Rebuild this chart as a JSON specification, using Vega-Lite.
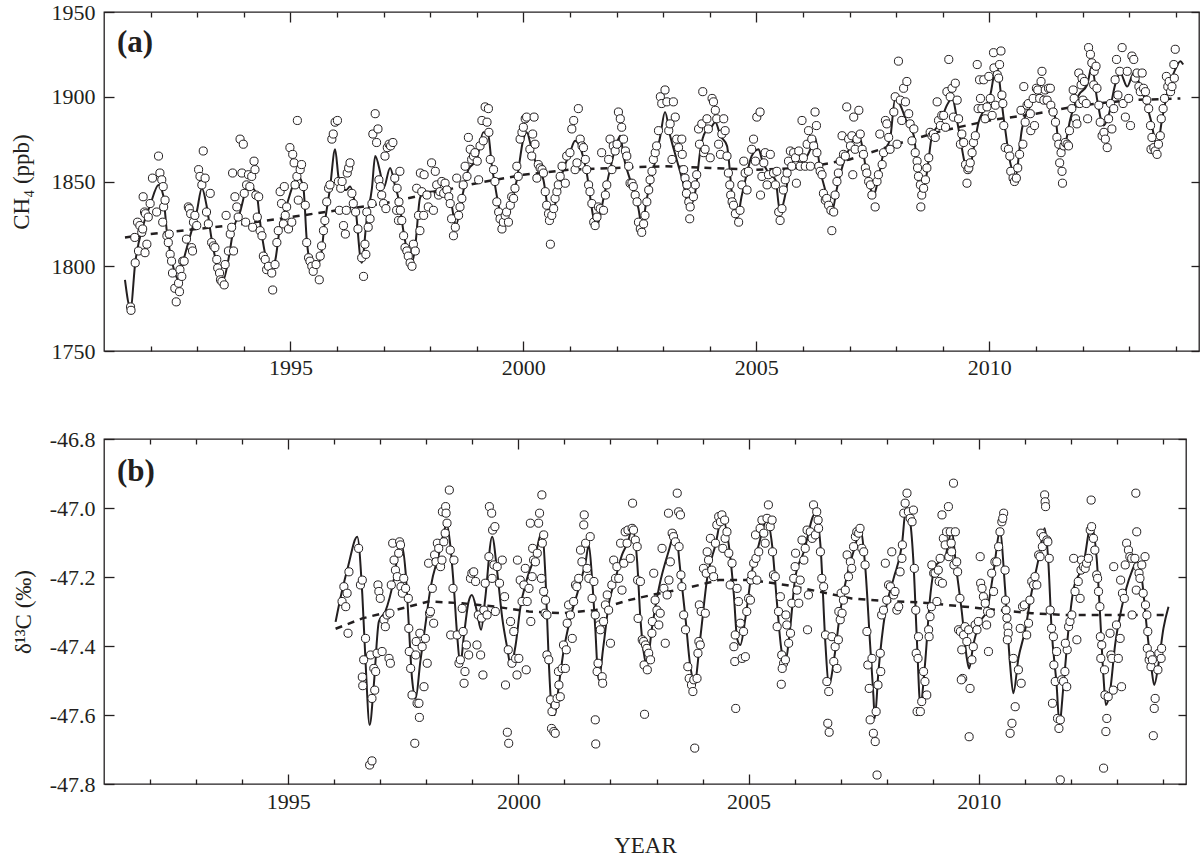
{
  "$schema": "https://vega.github.io/schema/vega-lite/v6.json",
  "background": "white",
  "padding": {"left": 9, "top": 0, "right": 0, "bottom": 0},
  "spacing": 43,
  "config": {
    "view": {"stroke": "#231f20", "strokeWidth": 1.3},
    "font": "Liberation Serif",
    "axis": {
      "domain": false,
      "grid": false,
      "tickColor": "#231f20",
      "tickWidth": 1.3,
      "labelFont": "Liberation Serif",
      "labelFontSize": 22,
      "labelColor": "#231f20",
      "labelOverlap": false,
      "labelFlush": false,
      "titleFont": "Liberation Serif",
      "titleFontSize": 23,
      "titleFontWeight": "normal",
      "titleColor": "#231f20"
    }
  },
  "datasets": {
    "trend_a": [
      {"yr":1991.45,"v":1817},{"yr":1992,"v":1819},{"yr":1993,"v":1822},{"yr":1994,"v":1825},{"yr":1995,"v":1829},{"yr":1996,"v":1833},{"yr":1997,"v":1837},{"yr":1998,"v":1843},{"yr":1999,"v":1849},{"yr":2000,"v":1854},{"yr":2001,"v":1857},{"yr":2002,"v":1858},{"yr":2003,"v":1859},{"yr":2004,"v":1858},{"yr":2005,"v":1857},{"yr":2006,"v":1858},{"yr":2007,"v":1863},{"yr":2008,"v":1872},{"yr":2009,"v":1880},{"yr":2010,"v":1886},{"yr":2011,"v":1890},{"yr":2012,"v":1895},{"yr":2013,"v":1898},{"yr":2014.1,"v":1899}
    ],
    "fit_a": [
      {"yr":1991.45,"v":1792},{"yr":1991.57,"v":1775},{"yr":1991.67,"v":1802},{"yr":1991.84,"v":1824},{"yr":1991.99,"v":1836},{"yr":1992.17,"v":1848},{"yr":1992.27,"v":1842},{"yr":1992.35,"v":1820},{"yr":1992.45,"v":1804},{"yr":1992.6,"v":1792},{"yr":1992.7,"v":1803},{"yr":1992.85,"v":1818},{"yr":1992.99,"v":1832},{"yr":1993.1,"v":1846},{"yr":1993.2,"v":1836},{"yr":1993.31,"v":1816},{"yr":1993.45,"v":1798},{"yr":1993.56,"v":1792},{"yr":1993.67,"v":1804},{"yr":1993.78,"v":1822},{"yr":1993.92,"v":1832},{"yr":1994.06,"v":1845},{"yr":1994.18,"v":1846},{"yr":1994.28,"v":1842},{"yr":1994.35,"v":1826},{"yr":1994.49,"v":1804},{"yr":1994.6,"v":1800},{"yr":1994.67,"v":1803},{"yr":1994.78,"v":1824},{"yr":1994.92,"v":1836},{"yr":1995.06,"v":1848},{"yr":1995.17,"v":1853},{"yr":1995.28,"v":1846},{"yr":1995.35,"v":1816},{"yr":1995.42,"v":1803},{"yr":1995.53,"v":1800},{"yr":1995.64,"v":1804},{"yr":1995.74,"v":1826},{"yr":1995.85,"v":1846},{"yr":1995.96,"v":1869},{"yr":1996.03,"v":1853},{"yr":1996.1,"v":1845},{"yr":1996.2,"v":1845},{"yr":1996.28,"v":1847},{"yr":1996.39,"v":1836},{"yr":1996.53,"v":1802},{"yr":1996.64,"v":1828},{"yr":1996.75,"v":1846},{"yr":1996.82,"v":1865},{"yr":1996.93,"v":1855},{"yr":1997.0,"v":1846},{"yr":1997.14,"v":1858},{"yr":1997.25,"v":1847},{"yr":1997.32,"v":1840},{"yr":1997.43,"v":1820},{"yr":1997.53,"v":1806},{"yr":1997.61,"v":1802},{"yr":1997.68,"v":1812},{"yr":1997.78,"v":1840},{"yr":1997.86,"v":1844},{"yr":1998.0,"v":1844},{"yr":1998.21,"v":1845},{"yr":1998.39,"v":1846},{"yr":1998.5,"v":1830},{"yr":1998.55,"v":1824},{"yr":1998.68,"v":1840},{"yr":1998.82,"v":1857},{"yr":1999.0,"v":1863},{"yr":1999.14,"v":1879},{"yr":1999.25,"v":1877},{"yr":1999.32,"v":1860},{"yr":1999.39,"v":1848},{"yr":1999.5,"v":1832},{"yr":1999.61,"v":1826},{"yr":1999.72,"v":1836},{"yr":1999.86,"v":1851},{"yr":2000.0,"v":1875},{"yr":2000.07,"v":1879},{"yr":2000.18,"v":1869},{"yr":2000.29,"v":1859},{"yr":2000.43,"v":1851},{"yr":2000.54,"v":1832},{"yr":2000.61,"v":1828},{"yr":2000.72,"v":1842},{"yr":2000.86,"v":1857},{"yr":2001.0,"v":1867},{"yr":2001.11,"v":1874},{"yr":2001.22,"v":1870},{"yr":2001.36,"v":1855},{"yr":2001.51,"v":1828},{"yr":2001.58,"v":1824},{"yr":2001.72,"v":1840},{"yr":2001.86,"v":1857},{"yr":2002.01,"v":1873},{"yr":2002.08,"v":1877},{"yr":2002.15,"v":1865},{"yr":2002.29,"v":1851},{"yr":2002.47,"v":1834},{"yr":2002.54,"v":1824},{"yr":2002.65,"v":1840},{"yr":2002.79,"v":1857},{"yr":2002.94,"v":1877},{"yr":2003.04,"v":1891},{"yr":2003.15,"v":1877},{"yr":2003.29,"v":1863},{"yr":2003.44,"v":1848},{"yr":2003.55,"v":1835},{"yr":2003.69,"v":1844},{"yr":2003.8,"v":1869},{"yr":2003.9,"v":1879},{"yr":2004.01,"v":1881},{"yr":2004.12,"v":1885},{"yr":2004.23,"v":1877},{"yr":2004.37,"v":1871},{"yr":2004.48,"v":1842},{"yr":2004.58,"v":1828},{"yr":2004.69,"v":1842},{"yr":2004.8,"v":1855},{"yr":2004.9,"v":1865},{"yr":2005.05,"v":1869},{"yr":2005.12,"v":1863},{"yr":2005.26,"v":1855},{"yr":2005.41,"v":1851},{"yr":2005.51,"v":1832},{"yr":2005.62,"v":1842},{"yr":2005.73,"v":1859},{"yr":2005.84,"v":1863},{"yr":2005.94,"v":1861},{"yr":2006.09,"v":1865},{"yr":2006.19,"v":1871},{"yr":2006.26,"v":1876},{"yr":2006.37,"v":1857},{"yr":2006.51,"v":1842},{"yr":2006.62,"v":1832},{"yr":2006.73,"v":1846},{"yr":2006.87,"v":1861},{"yr":2007.02,"v":1871},{"yr":2007.12,"v":1877},{"yr":2007.23,"v":1875},{"yr":2007.37,"v":1855},{"yr":2007.52,"v":1842},{"yr":2007.59,"v":1848},{"yr":2007.73,"v":1867},{"yr":2007.87,"v":1875},{"yr":2007.98,"v":1899},{"yr":2008.09,"v":1895},{"yr":2008.23,"v":1885},{"yr":2008.38,"v":1877},{"yr":2008.48,"v":1851},{"yr":2008.55,"v":1842},{"yr":2008.66,"v":1855},{"yr":2008.77,"v":1877},{"yr":2008.95,"v":1885},{"yr":2009.09,"v":1895},{"yr":2009.2,"v":1899},{"yr":2009.34,"v":1881},{"yr":2009.49,"v":1859},{"yr":2009.56,"v":1855},{"yr":2009.66,"v":1869},{"yr":2009.77,"v":1885},{"yr":2009.9,"v":1893},{"yr":2010.02,"v":1901},{"yr":2010.15,"v":1918},{"yr":2010.31,"v":1887},{"yr":2010.45,"v":1861},{"yr":2010.56,"v":1853},{"yr":2010.7,"v":1881},{"yr":2010.88,"v":1895},{"yr":2011.06,"v":1901},{"yr":2011.2,"v":1899},{"yr":2011.42,"v":1887},{"yr":2011.52,"v":1867},{"yr":2011.6,"v":1869},{"yr":2011.74,"v":1887},{"yr":2011.92,"v":1901},{"yr":2012.1,"v":1907},{"yr":2012.2,"v":1918},{"yr":2012.31,"v":1899},{"yr":2012.45,"v":1883},{"yr":2012.56,"v":1889},{"yr":2012.7,"v":1907},{"yr":2012.81,"v":1914},{"yr":2012.96,"v":1906},{"yr":2013.1,"v":1914},{"yr":2013.28,"v":1903},{"yr":2013.46,"v":1887},{"yr":2013.6,"v":1871},{"yr":2013.71,"v":1887},{"yr":2013.85,"v":1906},{"yr":2013.99,"v":1916},{"yr":2014.1,"v":1921},{"yr":2014.16,"v":1919}
    ],
    "pts_a": [
      {"yr":1991.57,"v":1776},{"yr":1991.58,"v":1774},{"yr":1991.67,"v":1802},{"yr":1991.66,"v":1817},{"yr":1991.74,"v":1809},{"yr":1991.72,"v":1826},{"yr":1991.77,"v":1824},{"yr":1991.81,"v":1820},{"yr":1991.83,"v":1822},{"yr":1991.84,"v":1841},{"yr":1991.87,"v":1832},{"yr":1991.89,"v":1831},{"yr":1991.92,"v":1813},{"yr":1991.88,"v":1808},{"yr":1991.95,"v":1829},{"yr":1991.99,"v":1837},{"yr":1992.04,"v":1852},{"yr":1992.17,"v":1865},{"yr":1992.13,"v":1832},{"yr":1992.2,"v":1855},{"yr":1992.24,"v":1851},{"yr":1992.27,"v":1847},{"yr":1992.28,"v":1835},{"yr":1992.31,"v":1839},{"yr":1992.26,"v":1826},{"yr":1992.35,"v":1818},{"yr":1992.38,"v":1814},{"yr":1992.4,"v":1819},{"yr":1992.42,"v":1807},{"yr":1992.45,"v":1803},{"yr":1992.47,"v":1796},{"yr":1992.52,"v":1787},{"yr":1992.55,"v":1779},{"yr":1992.6,"v":1790},{"yr":1992.62,"v":1785},{"yr":1992.63,"v":1798},{"yr":1992.67,"v":1794},{"yr":1992.69,"v":1803},{"yr":1992.72,"v":1803},{"yr":1992.77,"v":1816},{"yr":1992.81,"v":1835},{"yr":1992.83,"v":1834},{"yr":1992.86,"v":1831},{"yr":1992.88,"v":1811},{"yr":1992.9,"v":1809},{"yr":1992.92,"v":1826},{"yr":1992.95,"v":1830},{"yr":1992.99,"v":1824},{"yr":1993.03,"v":1857},{"yr":1993.06,"v":1853},{"yr":1993.1,"v":1848},{"yr":1993.13,"v":1868},{"yr":1993.17,"v":1852},{"yr":1993.2,"v":1832},{"yr":1993.24,"v":1825},{"yr":1993.28,"v":1843},{"yr":1993.31,"v":1814},{"yr":1993.35,"v":1812},{"yr":1993.38,"v":1811},{"yr":1993.42,"v":1804},{"yr":1993.44,"v":1799},{"yr":1993.48,"v":1796},{"yr":1993.5,"v":1792},{"yr":1993.53,"v":1791},{"yr":1993.58,"v":1789},{"yr":1993.6,"v":1801},{"yr":1993.62,"v":1830},{"yr":1993.67,"v":1809},{"yr":1993.71,"v":1819},{"yr":1993.74,"v":1823},{"yr":1993.76,"v":1855},{"yr":1993.78,"v":1809},{"yr":1993.81,"v":1841},{"yr":1993.85,"v":1835},{"yr":1993.88,"v":1829},{"yr":1993.92,"v":1875},{"yr":1993.96,"v":1855},{"yr":1993.99,"v":1872},{"yr":1994.01,"v":1843},{"yr":1994.04,"v":1826},{"yr":1994.06,"v":1848},{"yr":1994.1,"v":1854},{"yr":1994.13,"v":1847},{"yr":1994.17,"v":1853},{"yr":1994.19,"v":1823},{"yr":1994.22,"v":1862},{"yr":1994.24,"v":1857},{"yr":1994.26,"v":1842},{"yr":1994.29,"v":1829},{"yr":1994.32,"v":1841},{"yr":1994.35,"v":1821},{"yr":1994.39,"v":1818},{"yr":1994.42,"v":1806},{"yr":1994.46,"v":1804},{"yr":1994.49,"v":1798},{"yr":1994.53,"v":1800},{"yr":1994.6,"v":1796},{"yr":1994.62,"v":1786},{"yr":1994.67,"v":1801},{"yr":1994.71,"v":1814},{"yr":1994.74,"v":1821},{"yr":1994.78,"v":1844},{"yr":1994.81,"v":1837},{"yr":1994.85,"v":1825},{"yr":1994.87,"v":1847},{"yr":1994.89,"v":1830},{"yr":1994.92,"v":1835},{"yr":1994.96,"v":1822},{"yr":1994.99,"v":1870},{"yr":1995.03,"v":1826},{"yr":1995.05,"v":1866},{"yr":1995.08,"v":1861},{"yr":1995.1,"v":1848},{"yr":1995.14,"v":1853},{"yr":1995.15,"v":1886},{"yr":1995.17,"v":1839},{"yr":1995.21,"v":1857},{"yr":1995.24,"v":1860},{"yr":1995.28,"v":1847},{"yr":1995.32,"v":1836},{"yr":1995.35,"v":1814},{"yr":1995.39,"v":1805},{"yr":1995.42,"v":1803},{"yr":1995.46,"v":1800},{"yr":1995.49,"v":1797},{"yr":1995.55,"v":1801},{"yr":1995.62,"v":1792},{"yr":1995.64,"v":1806},{"yr":1995.67,"v":1812},{"yr":1995.71,"v":1821},{"yr":1995.74,"v":1827},{"yr":1995.78,"v":1838},{"yr":1995.82,"v":1846},{"yr":1995.85,"v":1848},{"yr":1995.89,"v":1875},{"yr":1995.92,"v":1878},{"yr":1995.96,"v":1885},{"yr":1996.01,"v":1886},{"yr":1996.03,"v":1850},{"yr":1996.05,"v":1833},{"yr":1996.08,"v":1846},{"yr":1996.11,"v":1850},{"yr":1996.14,"v":1824},{"yr":1996.18,"v":1819},{"yr":1996.2,"v":1833},{"yr":1996.22,"v":1855},{"yr":1996.25,"v":1858},{"yr":1996.28,"v":1861},{"yr":1996.32,"v":1843},{"yr":1996.35,"v":1837},{"yr":1996.4,"v":1832},{"yr":1996.45,"v":1822},{"yr":1996.53,"v":1805},{"yr":1996.57,"v":1794},{"yr":1996.6,"v":1813},{"yr":1996.62,"v":1807},{"yr":1996.64,"v":1832},{"yr":1996.67,"v":1823},{"yr":1996.71,"v":1828},{"yr":1996.75,"v":1837},{"yr":1996.77,"v":1878},{"yr":1996.82,"v":1890},{"yr":1996.85,"v":1873},{"yr":1996.88,"v":1881},{"yr":1996.9,"v":1851},{"yr":1996.93,"v":1847},{"yr":1996.96,"v":1842},{"yr":1997.0,"v":1837},{"yr":1997.03,"v":1865},{"yr":1997.05,"v":1834},{"yr":1997.08,"v":1870},{"yr":1997.12,"v":1872},{"yr":1997.15,"v":1871},{"yr":1997.2,"v":1873},{"yr":1997.24,"v":1852},{"yr":1997.28,"v":1833},{"yr":1997.32,"v":1827},
      {"yr":1997.29,"v":1846},{"yr":1997.35,"v":1856},{"yr":1997.33,"v":1838},{"yr":1997.36,"v":1833},{"yr":1997.39,"v":1827},{"yr":1997.43,"v":1818},{"yr":1997.46,"v":1811},{"yr":1997.5,"v":1809},{"yr":1997.53,"v":1806},{"yr":1997.57,"v":1802},{"yr":1997.61,"v":1800},{"yr":1997.64,"v":1813},{"yr":1997.68,"v":1809},{"yr":1997.71,"v":1846},{"yr":1997.75,"v":1830},{"yr":1997.78,"v":1821},{"yr":1997.82,"v":1844},{"yr":1997.86,"v":1830},{"yr":1997.79,"v":1855},{"yr":1997.87,"v":1854},{"yr":1997.93,"v":1842},{"yr":1997.96,"v":1835},{"yr":1998.03,"v":1861},{"yr":1998.07,"v":1833},{"yr":1998.11,"v":1856},{"yr":1998.14,"v":1848},{"yr":1998.18,"v":1842},{"yr":1998.21,"v":1844},{"yr":1998.25,"v":1850},{"yr":1998.29,"v":1843},{"yr":1998.32,"v":1849},{"yr":1998.36,"v":1845},{"yr":1998.4,"v":1841},{"yr":1998.43,"v":1837},{"yr":1998.46,"v":1828},{"yr":1998.5,"v":1818},{"yr":1998.54,"v":1823},{"yr":1998.57,"v":1852},{"yr":1998.61,"v":1830},{"yr":1998.64,"v":1835},{"yr":1998.68,"v":1840},{"yr":1998.71,"v":1848},{"yr":1998.75,"v":1859},{"yr":1998.79,"v":1853},{"yr":1998.82,"v":1876},{"yr":1998.86,"v":1869},{"yr":1998.89,"v":1863},{"yr":1998.93,"v":1865},{"yr":1998.96,"v":1867},{"yr":1999.01,"v":1862},{"yr":1999.04,"v":1851},{"yr":1999.07,"v":1871},{"yr":1999.11,"v":1886},{"yr":1999.14,"v":1874},{"yr":1999.18,"v":1894},{"yr":1999.22,"v":1885},{"yr":1999.25,"v":1893},{"yr":1999.26,"v":1879},{"yr":1999.29,"v":1863},{"yr":1999.36,"v":1857},{"yr":1999.39,"v":1850},{"yr":1999.43,"v":1838},{"yr":1999.47,"v":1832},{"yr":1999.5,"v":1828},{"yr":1999.54,"v":1822},{"yr":1999.57,"v":1826},{"yr":1999.61,"v":1830},{"yr":1999.64,"v":1832},{"yr":1999.68,"v":1826},{"yr":1999.72,"v":1836},{"yr":1999.75,"v":1841},{"yr":1999.79,"v":1840},{"yr":1999.82,"v":1846},{"yr":1999.86,"v":1859},{"yr":1999.89,"v":1853},{"yr":1999.93,"v":1875},{"yr":1999.97,"v":1879},{"yr":2000.0,"v":1882},{"yr":2000.04,"v":1887},{"yr":2000.07,"v":1888},{"yr":2000.14,"v":1869},{"yr":2000.18,"v":1865},{"yr":2000.2,"v":1878},{"yr":2000.23,"v":1888},{"yr":2000.25,"v":1872},{"yr":2000.29,"v":1852},{"yr":2000.32,"v":1860},{"yr":2000.36,"v":1858},{"yr":2000.4,"v":1857},{"yr":2000.43,"v":1855},{"yr":2000.47,"v":1844},{"yr":2000.5,"v":1836},{"yr":2000.54,"v":1831},{"yr":2000.56,"v":1827},{"yr":2000.58,"v":1813},{"yr":2000.61,"v":1830},{"yr":2000.65,"v":1834},{"yr":2000.68,"v":1840},{"yr":2000.72,"v":1844},{"yr":2000.75,"v":1848},{"yr":2000.79,"v":1853},{"yr":2000.83,"v":1859},{"yr":2000.9,"v":1849},{"yr":2000.93,"v":1865},{"yr":2001.0,"v":1867},{"yr":2001.04,"v":1881},{"yr":2001.08,"v":1886},{"yr":2001.11,"v":1857},{"yr":2001.15,"v":1861},{"yr":2001.18,"v":1893},{"yr":2001.22,"v":1875},{"yr":2001.26,"v":1871},{"yr":2001.29,"v":1870},{"yr":2001.33,"v":1863},{"yr":2001.36,"v":1857},{"yr":2001.4,"v":1848},{"yr":2001.43,"v":1844},{"yr":2001.47,"v":1837},{"yr":2001.51,"v":1826},{"yr":2001.54,"v":1824},{"yr":2001.58,"v":1829},{"yr":2001.61,"v":1835},{"yr":2001.65,"v":1834},{"yr":2001.68,"v":1867},{"yr":2001.72,"v":1833},{"yr":2001.76,"v":1842},{"yr":2001.79,"v":1848},{"yr":2001.83,"v":1863},{"yr":2001.86,"v":1875},{"yr":2001.9,"v":1857},{"yr":2001.93,"v":1871},{"yr":2001.97,"v":1868},{"yr":2002.01,"v":1872},{"yr":2002.04,"v":1891},{"yr":2002.08,"v":1887},{"yr":2002.11,"v":1882},{"yr":2002.15,"v":1875},{"yr":2002.19,"v":1868},{"yr":2002.22,"v":1865},{"yr":2002.26,"v":1859},{"yr":2002.29,"v":1849},{"yr":2002.33,"v":1849},{"yr":2002.36,"v":1847},{"yr":2002.4,"v":1842},{"yr":2002.44,"v":1838},{"yr":2002.47,"v":1826},{"yr":2002.51,"v":1822},{"yr":2002.54,"v":1820},{"yr":2002.58,"v":1825},{"yr":2002.61,"v":1830},{"yr":2002.65,"v":1838},{"yr":2002.69,"v":1845},{"yr":2002.72,"v":1851},{"yr":2002.76,"v":1856},{"yr":2002.79,"v":1863},{"yr":2002.83,"v":1867},{"yr":2002.86,"v":1871},{"yr":2002.9,"v":1880},{"yr":2002.94,"v":1900},{"yr":2002.97,"v":1896},{"yr":2003.04,"v":1904},{"yr":2003.08,"v":1897},{"yr":2003.12,"v":1880},{"yr":2003.15,"v":1884},{"yr":2003.19,"v":1863},{"yr":2003.22,"v":1897},{"yr":2003.26,"v":1888},{"yr":2003.29,"v":1875},{"yr":2003.33,"v":1870},
      {"yr":2003.4,"v":1875},{"yr":2003.41,"v":1866},{"yr":2003.44,"v":1857},{"yr":2003.47,"v":1852},{"yr":2003.51,"v":1848},{"yr":2003.5,"v":1843},{"yr":2003.55,"v":1838},{"yr":2003.58,"v":1835},{"yr":2003.57,"v":1828},{"yr":2003.65,"v":1841},{"yr":2003.69,"v":1848},{"yr":2003.72,"v":1854},{"yr":2003.76,"v":1881},{"yr":2003.78,"v":1872},{"yr":2003.83,"v":1884},{"yr":2003.85,"v":1903},{"yr":2003.87,"v":1867},{"yr":2003.9,"v":1869},{"yr":2003.94,"v":1887},{"yr":2003.97,"v":1881},{"yr":2004.01,"v":1864},{"yr":2004.05,"v":1899},{"yr":2004.08,"v":1897},{"yr":2004.12,"v":1892},{"yr":2004.15,"v":1887},{"yr":2004.19,"v":1872},{"yr":2004.23,"v":1866},{"yr":2004.26,"v":1878},{"yr":2004.3,"v":1887},{"yr":2004.33,"v":1880},{"yr":2004.37,"v":1865},{"yr":2004.4,"v":1855},{"yr":2004.43,"v":1848},{"yr":2004.45,"v":1842},{"yr":2004.48,"v":1838},{"yr":2004.51,"v":1836},{"yr":2004.55,"v":1831},{"yr":2004.62,"v":1826},{"yr":2004.65,"v":1833},{"yr":2004.69,"v":1848},{"yr":2004.73,"v":1862},{"yr":2004.76,"v":1855},{"yr":2004.8,"v":1845},{"yr":2004.83,"v":1856},{"yr":2004.9,"v":1869},{"yr":2004.94,"v":1875},{"yr":2004.98,"v":1862},{"yr":2005.01,"v":1888},{"yr":2005.08,"v":1891},{"yr":2005.09,"v":1842},{"yr":2005.12,"v":1853},{"yr":2005.16,"v":1861},{"yr":2005.19,"v":1867},{"yr":2005.23,"v":1848},{"yr":2005.26,"v":1854},{"yr":2005.3,"v":1866},{"yr":2005.37,"v":1855},{"yr":2005.41,"v":1848},{"yr":2005.44,"v":1856},{"yr":2005.48,"v":1832},{"yr":2005.51,"v":1827},{"yr":2005.55,"v":1834},{"yr":2005.58,"v":1845},{"yr":2005.62,"v":1851},{"yr":2005.66,"v":1855},{"yr":2005.69,"v":1862},{"yr":2005.73,"v":1868},{"yr":2005.76,"v":1859},{"yr":2005.8,"v":1867},{"yr":2005.84,"v":1864},{"yr":2005.86,"v":1849},{"yr":2005.91,"v":1868},{"yr":2005.94,"v":1859},{"yr":2005.98,"v":1886},{"yr":2006.01,"v":1864},{"yr":2006.05,"v":1859},{"yr":2006.09,"v":1872},{"yr":2006.12,"v":1880},{"yr":2006.16,"v":1859},{"yr":2006.19,"v":1875},{"yr":2006.23,"v":1871},{"yr":2006.26,"v":1891},{"yr":2006.29,"v":1883},{"yr":2006.3,"v":1867},{"yr":2006.34,"v":1859},{"yr":2006.37,"v":1856},{"yr":2006.41,"v":1854},{"yr":2006.44,"v":1843},{"yr":2006.48,"v":1839},{"yr":2006.51,"v":1840},{"yr":2006.55,"v":1836},{"yr":2006.6,"v":1833},{"yr":2006.62,"v":1821},{"yr":2006.66,"v":1832},{"yr":2006.69,"v":1842},{"yr":2006.73,"v":1850},{"yr":2006.76,"v":1855},{"yr":2006.8,"v":1862},{"yr":2006.84,"v":1877},{"yr":2006.87,"v":1866},{"yr":2006.91,"v":1865},{"yr":2006.94,"v":1894},{"yr":2006.98,"v":1875},{"yr":2007.02,"v":1871},{"yr":2007.05,"v":1877},{"yr":2007.07,"v":1854},{"yr":2007.09,"v":1888},{"yr":2007.12,"v":1869},{"yr":2007.16,"v":1875},{"yr":2007.2,"v":1892},{"yr":2007.23,"v":1878},{"yr":2007.27,"v":1869},{"yr":2007.3,"v":1866},{"yr":2007.34,"v":1858},{"yr":2007.37,"v":1855},{"yr":2007.41,"v":1850},{"yr":2007.45,"v":1848},{"yr":2007.48,"v":1842},{"yr":2007.55,"v":1835},{"yr":2007.59,"v":1850},{"yr":2007.62,"v":1854},{"yr":2007.65,"v":1878},{"yr":2007.7,"v":1860},{"yr":2007.73,"v":1867},{"yr":2007.77,"v":1886},{"yr":2007.8,"v":1884},{"yr":2007.84,"v":1876},{"yr":2007.87,"v":1869},{"yr":2007.95,"v":1891},{"yr":2007.98,"v":1900},{"yr":2008.02,"v":1872},{"yr":2008.05,"v":1921},{"yr":2008.09,"v":1898},{"yr":2008.12,"v":1886},{"yr":2008.16,"v":1905},{"yr":2008.2,"v":1897},{"yr":2008.23,"v":1909},{"yr":2008.27,"v":1890},{"yr":2008.3,"v":1884},{"yr":2008.34,"v":1874},{"yr":2008.38,"v":1881},{"yr":2008.41,"v":1867},{"yr":2008.45,"v":1862},{"yr":2008.46,"v":1858},{"yr":2008.48,"v":1853},{"yr":2008.52,"v":1848},{"yr":2008.53,"v":1835},{"yr":2008.55,"v":1842},{"yr":2008.59,"v":1846},{"yr":2008.63,"v":1851},{"yr":2008.66,"v":1858},{"yr":2008.7,"v":1864},{"yr":2008.73,"v":1879},{"yr":2008.77,"v":1877},{"yr":2008.8,"v":1878},{"yr":2008.84,"v":1876},{"yr":2008.88,"v":1897},{"yr":2008.91,"v":1886},{"yr":2008.95,"v":1883},{"yr":2008.98,"v":1889},{"yr":2009.02,"v":1889},{"yr":2009.06,"v":1882},{"yr":2009.09,"v":1903},{"yr":2009.13,"v":1922},{"yr":2009.16,"v":1900},{"yr":2009.2,"v":1905},{"yr":2009.23,"v":1888},{"yr":2009.27,"v":1908},{"yr":2009.31,"v":1898},{"yr":2009.34,"v":1887},{"yr":2009.38,"v":1872},{"yr":2009.41,"v":1878},{"yr":2009.45,"v":1873},{"yr":2009.49,"v":1860},{"yr":2009.52,"v":1849},{"yr":2009.54,"v":1857},{"yr":2009.56,"v":1858},{"yr":2009.59,"v":1861},{"yr":2009.63,"v":1867},{"yr":2009.66,"v":1873},{"yr":2009.7,"v":1877},{"yr":2009.74,"v":1919},{"yr":2009.76,"v":1893},{"yr":2009.79,"v":1910},
      {"yr":2009.81,"v":1899},{"yr":2009.84,"v":1893},{"yr":2009.88,"v":1910},{"yr":2009.91,"v":1887},{"yr":2009.95,"v":1894},{"yr":2009.99,"v":1912},{"yr":2010.02,"v":1899},{"yr":2010.06,"v":1889},{"yr":2010.09,"v":1926},{"yr":2010.1,"v":1917},{"yr":2010.13,"v":1895},{"yr":2010.17,"v":1913},{"yr":2010.2,"v":1911},{"yr":2010.22,"v":1919},{"yr":2010.25,"v":1927},{"yr":2010.27,"v":1901},{"yr":2010.29,"v":1896},{"yr":2010.31,"v":1883},{"yr":2010.34,"v":1870},{"yr":2010.41,"v":1869},{"yr":2010.44,"v":1865},{"yr":2010.46,"v":1856},{"yr":2010.51,"v":1852},{"yr":2010.54,"v":1850},{"yr":2010.58,"v":1852},{"yr":2010.61,"v":1858},{"yr":2010.65,"v":1866},{"yr":2010.68,"v":1892},{"yr":2010.72,"v":1872},{"yr":2010.74,"v":1906},{"yr":2010.77,"v":1885},{"yr":2010.81,"v":1895},{"yr":2010.84,"v":1896},{"yr":2010.88,"v":1890},{"yr":2010.89,"v":1880},{"yr":2010.94,"v":1899},{"yr":2010.97,"v":1883},{"yr":2011.01,"v":1905},{"yr":2011.04,"v":1904},{"yr":2011.08,"v":1899},{"yr":2011.11,"v":1909},{"yr":2011.13,"v":1915},{"yr":2011.17,"v":1898},{"yr":2011.2,"v":1904},{"yr":2011.24,"v":1898},{"yr":2011.27,"v":1905},{"yr":2011.31,"v":1905},{"yr":2011.32,"v":1895},{"yr":2011.37,"v":1891},{"yr":2011.42,"v":1885},{"yr":2011.45,"v":1876},{"yr":2011.49,"v":1872},{"yr":2011.51,"v":1861},{"yr":2011.54,"v":1867},{"yr":2011.56,"v":1856},{"yr":2011.57,"v":1849},{"yr":2011.6,"v":1871},{"yr":2011.63,"v":1873},{"yr":2011.67,"v":1872},{"yr":2011.7,"v":1871},{"yr":2011.72,"v":1880},{"yr":2011.77,"v":1893},{"yr":2011.8,"v":1904},{"yr":2011.82,"v":1899},{"yr":2011.85,"v":1887},{"yr":2011.88,"v":1884},{"yr":2011.92,"v":1914},{"yr":2011.94,"v":1896},{"yr":2011.97,"v":1907},{"yr":2011.99,"v":1911},{"yr":2012.01,"v":1898},{"yr":2012.04,"v":1909},{"yr":2012.08,"v":1896},{"yr":2012.11,"v":1887},{"yr":2012.13,"v":1929},{"yr":2012.17,"v":1925},{"yr":2012.2,"v":1920},{"yr":2012.24,"v":1907},{"yr":2012.25,"v":1915},{"yr":2012.29,"v":1918},{"yr":2012.31,"v":1905},{"yr":2012.35,"v":1895},{"yr":2012.38,"v":1885},{"yr":2012.42,"v":1877},{"yr":2012.46,"v":1879},{"yr":2012.49,"v":1875},{"yr":2012.53,"v":1870},{"yr":2012.56,"v":1887},{"yr":2012.6,"v":1896},{"yr":2012.63,"v":1881},{"yr":2012.67,"v":1893},{"yr":2012.7,"v":1910},{"yr":2012.73,"v":1922},{"yr":2012.76,"v":1901},{"yr":2012.8,"v":1915},{"yr":2012.85,"v":1929},{"yr":2012.87,"v":1896},{"yr":2012.92,"v":1888},{"yr":2012.96,"v":1915},{"yr":2012.99,"v":1899},{"yr":2013.03,"v":1883},{"yr":2013.06,"v":1924},{"yr":2013.1,"v":1922},{"yr":2013.13,"v":1911},{"yr":2013.17,"v":1914},{"yr":2013.21,"v":1906},{"yr":2013.24,"v":1903},{"yr":2013.28,"v":1914},{"yr":2013.31,"v":1905},{"yr":2013.35,"v":1903},{"yr":2013.38,"v":1898},{"yr":2013.42,"v":1893},{"yr":2013.46,"v":1883},{"yr":2013.49,"v":1876},{"yr":2013.47,"v":1869},{"yr":2013.53,"v":1870},{"yr":2013.56,"v":1868},{"yr":2013.6,"v":1866},{"yr":2013.63,"v":1872},{"yr":2013.67,"v":1877},{"yr":2013.69,"v":1887},{"yr":2013.73,"v":1893},{"yr":2013.76,"v":1899},{"yr":2013.8,"v":1912},{"yr":2013.83,"v":1906},{"yr":2013.86,"v":1909},{"yr":2013.89,"v":1903},{"yr":2013.92,"v":1906},{"yr":2013.96,"v":1919},{"yr":2013.99,"v":1928},{"yr":2013.97,"v":1911}
    ],
    "trend_b": [
      {"yr":1996.03,"v":-47.35},{"yr":1996.61,"v":-47.32},{"yr":1997.33,"v":-47.296},{"yr":1998.05,"v":-47.271},{"yr":1998.78,"v":-47.276},{"yr":1999.5,"v":-47.286},{"yr":2000.23,"v":-47.3},{"yr":2000.95,"v":-47.305},{"yr":2001.67,"v":-47.296},{"yr":2002.4,"v":-47.267},{"yr":2002.9,"v":-47.252},{"yr":2003.63,"v":-47.233},{"yr":2004.35,"v":-47.209},{"yr":2005.07,"v":-47.209},{"yr":2005.8,"v":-47.223},{"yr":2006.52,"v":-47.242},{"yr":2007.24,"v":-47.262},{"yr":2007.97,"v":-47.27},{"yr":2008.69,"v":-47.273},{"yr":2009.7,"v":-47.286},{"yr":2010.43,"v":-47.296},{"yr":2011.15,"v":-47.305},{"yr":2011.87,"v":-47.31},{"yr":2012.6,"v":-47.31},{"yr":2013.32,"v":-47.31},{"yr":2014.12,"v":-47.31}
    ],
    "fit_b": [
      {"yr":1996.03,"v":-47.33},{"yr":1996.17,"v":-47.24},{"yr":1996.3,"v":-47.17},{"yr":1996.5,"v":-47.083},{"yr":1996.61,"v":-47.25},{"yr":1996.68,"v":-47.445},{"yr":1996.77,"v":-47.629},{"yr":1996.86,"v":-47.513},{"yr":1996.97,"v":-47.329},{"yr":1997.11,"v":-47.3},{"yr":1997.3,"v":-47.204},{"yr":1997.44,"v":-47.098},{"yr":1997.55,"v":-47.185},{"yr":1997.62,"v":-47.339},{"yr":1997.69,"v":-47.494},{"yr":1997.77,"v":-47.551},{"yr":1997.87,"v":-47.445},{"yr":1997.98,"v":-47.339},{"yr":1998.09,"v":-47.233},{"yr":1998.27,"v":-47.136},{"yr":1998.45,"v":-47.049},{"yr":1998.52,"v":-47.107},{"yr":1998.6,"v":-47.233},{"yr":1998.67,"v":-47.368},{"yr":1998.74,"v":-47.455},{"yr":1998.81,"v":-47.378},{"yr":1998.92,"v":-47.271},{"yr":1998.99,"v":-47.252},{"yr":1999.1,"v":-47.3},{"yr":1999.19,"v":-47.353},{"yr":1999.28,"v":-47.262},{"yr":1999.43,"v":-47.083},{"yr":1999.54,"v":-47.185},{"yr":1999.65,"v":-47.319},{"yr":1999.76,"v":-47.407},{"yr":1999.83,"v":-47.455},{"yr":1999.94,"v":-47.397},{"yr":2000.04,"v":-47.291},{"yr":2000.19,"v":-47.204},{"yr":2000.37,"v":-47.136},{"yr":2000.51,"v":-47.069},{"yr":2000.59,"v":-47.204},{"yr":2000.66,"v":-47.445},{"yr":2000.73,"v":-47.59},{"yr":2000.79,"v":-47.6},{"yr":2000.88,"v":-47.513},{"yr":2000.98,"v":-47.416},{"yr":2001.13,"v":-47.319},{"yr":2001.31,"v":-47.233},{"yr":2001.46,"v":-47.156},{"yr":2001.53,"v":-47.107},{"yr":2001.6,"v":-47.204},{"yr":2001.67,"v":-47.349},{"yr":2001.74,"v":-47.498},{"yr":2001.85,"v":-47.397},{"yr":2001.96,"v":-47.281},{"yr":2002.11,"v":-47.204},{"yr":2002.25,"v":-47.136},{"yr":2002.38,"v":-47.098},{"yr":2002.47,"v":-47.059},{"yr":2002.58,"v":-47.156},{"yr":2002.65,"v":-47.32},{"yr":2002.72,"v":-47.416},{"yr":2002.79,"v":-47.455},{"yr":2002.9,"v":-47.349},{"yr":2003.05,"v":-47.233},{"yr":2003.26,"v":-47.127},{"yr":2003.41,"v":-47.069},{"yr":2003.52,"v":-47.185},{"yr":2003.63,"v":-47.32},{"yr":2003.73,"v":-47.455},{"yr":2003.83,"v":-47.503},{"yr":2003.95,"v":-47.378},{"yr":2004.1,"v":-47.204},{"yr":2004.28,"v":-47.107},{"yr":2004.42,"v":-47.03},{"yr":2004.57,"v":-47.107},{"yr":2004.68,"v":-47.252},{"yr":2004.75,"v":-47.378},{"yr":2004.82,"v":-47.397},{"yr":2004.93,"v":-47.32},{"yr":2005.07,"v":-47.185},{"yr":2005.22,"v":-47.107},{"yr":2005.4,"v":-47.035},{"yr":2005.51,"v":-47.107},{"yr":2005.62,"v":-47.281},{"yr":2005.72,"v":-47.416},{"yr":2005.8,"v":-47.44},{"yr":2005.91,"v":-47.339},{"yr":2006.01,"v":-47.204},{"yr":2006.2,"v":-47.127},{"yr":2006.45,"v":-47.015},{"yr":2006.56,"v":-47.107},{"yr":2006.67,"v":-47.397},{"yr":2006.74,"v":-47.513},{"yr":2006.88,"v":-47.416},{"yr":2006.99,"v":-47.3},{"yr":2007.14,"v":-47.194},{"yr":2007.32,"v":-47.107},{"yr":2007.42,"v":-47.059},{"yr":2007.53,"v":-47.165},{"yr":2007.64,"v":-47.397},{"yr":2007.71,"v":-47.542},{"yr":2007.74,"v":-47.61},{"yr":2007.82,"v":-47.474},{"yr":2007.97,"v":-47.3},{"yr":2008.15,"v":-47.204},{"yr":2008.33,"v":-47.107},{"yr":2008.42,"v":-47.0},{"yr":2008.51,"v":-47.04},{"yr":2008.58,"v":-47.156},{"yr":2008.66,"v":-47.397},{"yr":2008.73,"v":-47.571},{"yr":2008.83,"v":-47.455},{"yr":2008.94,"v":-47.262},{"yr":2009.05,"v":-47.17},{"yr":2009.27,"v":-47.141},{"yr":2009.41,"v":-47.069},{"yr":2009.52,"v":-47.185},{"yr":2009.63,"v":-47.3},{"yr":2009.74,"v":-47.436},{"yr":2009.79,"v":-47.465},{"yr":2009.88,"v":-47.397},{"yr":2010.03,"v":-47.329},{"yr":2010.17,"v":-47.3},{"yr":2010.32,"v":-47.185},{"yr":2010.46,"v":-47.069},{"yr":2010.57,"v":-47.233},{"yr":2010.68,"v":-47.455},{"yr":2010.75,"v":-47.537},{"yr":2010.86,"v":-47.436},{"yr":2011.0,"v":-47.358},{"yr":2011.15,"v":-47.242},{"yr":2011.3,"v":-47.146},{"yr":2011.43,"v":-47.059},{"yr":2011.51,"v":-47.156},{"yr":2011.58,"v":-47.349},{"yr":2011.69,"v":-47.513},{"yr":2011.75,"v":-47.624},{"yr":2011.84,"v":-47.513},{"yr":2011.95,"v":-47.349},{"yr":2012.06,"v":-47.233},{"yr":2012.27,"v":-47.165},{"yr":2012.44,"v":-47.049},{"yr":2012.56,"v":-47.146},{"yr":2012.63,"v":-47.3},{"yr":2012.71,"v":-47.494},{"yr":2012.76,"v":-47.571},{"yr":2012.85,"v":-47.532},{"yr":2012.96,"v":-47.397},{"yr":2013.1,"v":-47.291},{"yr":2013.32,"v":-47.185},{"yr":2013.43,"v":-47.156},{"yr":2013.54,"v":-47.204},{"yr":2013.65,"v":-47.349},{"yr":2013.75,"v":-47.465},{"yr":2013.81,"v":-47.513},{"yr":2013.9,"v":-47.455},{"yr":2014.01,"v":-47.349},{"yr":2014.12,"v":-47.286}
    ],
    "pts_b": [
      {"yr":1996.17,"v":-47.271},{"yr":1996.21,"v":-47.228},{"yr":1996.28,"v":-47.247},{"yr":1996.25,"v":-47.286},{"yr":1996.32,"v":-47.185},{"yr":1996.3,"v":-47.363},{"yr":1996.53,"v":-47.117},{"yr":1996.57,"v":-47.223},{"yr":1996.61,"v":-47.209},{"yr":1996.68,"v":-47.378},{"yr":1996.64,"v":-47.44},{"yr":1996.61,"v":-47.49},{"yr":1996.62,"v":-47.515},{"yr":1996.79,"v":-47.426},{"yr":1996.86,"v":-47.465},{"yr":1996.9,"v":-47.474},{"yr":1996.88,"v":-47.528},{"yr":1996.82,"v":-47.552},{"yr":1996.77,"v":-47.745},{"yr":1996.82,"v":-47.733},{"yr":1996.93,"v":-47.421},{"yr":1996.95,"v":-47.223},{"yr":1996.97,"v":-47.242},{"yr":1997.0,"v":-47.262},{"yr":1997.04,"v":-47.416},{"yr":1997.08,"v":-47.324},{"yr":1997.11,"v":-47.344},{"yr":1997.15,"v":-47.31},{"yr":1997.19,"v":-47.436},{"yr":1997.21,"v":-47.305},{"yr":1997.22,"v":-47.45},{"yr":1997.24,"v":-47.223},{"yr":1997.27,"v":-47.102},{"yr":1997.3,"v":-47.151},{"yr":1997.33,"v":-47.18},{"yr":1997.37,"v":-47.199},{"yr":1997.4,"v":-47.131},{"yr":1997.42,"v":-47.098},{"yr":1997.44,"v":-47.107},{"yr":1997.45,"v":-47.228},{"yr":1997.48,"v":-47.247},{"yr":1997.51,"v":-47.204},{"yr":1997.55,"v":-47.233},{"yr":1997.61,"v":-47.262},{"yr":1997.62,"v":-47.349},{"yr":1997.63,"v":-47.416},{"yr":1997.66,"v":-47.465},{"yr":1997.69,"v":-47.542},{"yr":1997.75,"v":-47.682},{"yr":1997.77,"v":-47.426},{"yr":1997.78,"v":-47.387},{"yr":1997.8,"v":-47.566},{"yr":1997.84,"v":-47.566},{"yr":1997.85,"v":-47.607},{"yr":1997.86,"v":-47.363},{"yr":1997.91,"v":-47.402},{"yr":1997.95,"v":-47.518},{"yr":1997.98,"v":-47.378},{"yr":1998.02,"v":-47.45},{"yr":1998.05,"v":-47.16},{"yr":1998.07,"v":-47.305},{"yr":1998.09,"v":-47.3},{"yr":1998.13,"v":-47.233},{"yr":1998.16,"v":-47.334},{"yr":1998.18,"v":-47.136},{"yr":1998.21,"v":-47.156},{"yr":1998.24,"v":-47.102},{"yr":1998.27,"v":-47.117},{"yr":1998.31,"v":-47.17},{"yr":1998.34,"v":-47.151},{"yr":1998.38,"v":-47.098},{"yr":1998.35,"v":-47.011},{"yr":1998.42,"v":-46.996},{"yr":1998.43,"v":-47.015},{"yr":1998.45,"v":-47.044},{"yr":1998.41,"v":-47.073},{"yr":1998.5,"v":-46.948},{"yr":1998.52,"v":-47.122},{"yr":1998.6,"v":-47.151},{"yr":1998.58,"v":-47.233},{"yr":1998.53,"v":-47.368},{"yr":1998.67,"v":-47.368},{"yr":1998.71,"v":-47.45},{"yr":1998.74,"v":-47.44},{"yr":1998.78,"v":-47.291},{"yr":1998.8,"v":-47.358},{"yr":1998.84,"v":-47.474},{"yr":1998.82,"v":-47.508},{"yr":1998.87,"v":-47.397},{"yr":1998.92,"v":-47.426},{"yr":1998.96,"v":-47.204},{"yr":1998.99,"v":-47.189},{"yr":1999.03,"v":-47.185},{"yr":1999.07,"v":-47.213},{"yr":1999.1,"v":-47.397},{"yr":1999.13,"v":-47.31},{"yr":1999.18,"v":-47.426},{"yr":1999.2,"v":-47.319},{"yr":1999.23,"v":-47.484},{"yr":1999.25,"v":-47.296},{"yr":1999.28,"v":-47.218},{"yr":1999.32,"v":-47.31},{"yr":1999.36,"v":-47.141},{"yr":1999.37,"v":-46.996},{"yr":1999.42,"v":-47.015},{"yr":1999.44,"v":-47.064},{"yr":1999.49,"v":-47.054},{"yr":1999.47,"v":-47.165},{"yr":1999.43,"v":-47.204},{"yr":1999.5,"v":-47.3},{"yr":1999.54,"v":-47.17},{"yr":1999.59,"v":-47.218},{"yr":1999.65,"v":-47.151},{"yr":1999.7,"v":-47.257},{"yr":1999.72,"v":-47.513},{"yr":1999.76,"v":-47.65},{"yr":1999.79,"v":-47.682},{"yr":1999.78,"v":-47.411},{"yr":1999.83,"v":-47.329},{"yr":1999.86,"v":-47.45},{"yr":1999.9,"v":-47.358},{"yr":1999.94,"v":-47.436},{"yr":1999.97,"v":-47.484},{"yr":2000.01,"v":-47.436},{"yr":1999.98,"v":-47.151},{"yr":2000.04,"v":-47.209},{"yr":2000.08,"v":-47.271},{"yr":2000.12,"v":-47.223},{"yr":2000.15,"v":-47.175},{"yr":2000.17,"v":-47.469},{"yr":2000.19,"v":-47.271},{"yr":2000.23,"v":-47.233},{"yr":2000.26,"v":-47.044},{"yr":2000.27,"v":-47.329},{"yr":2000.3,"v":-47.199},{"yr":2000.31,"v":-47.117},{"yr":2000.33,"v":-47.151},{"yr":2000.37,"v":-47.156},{"yr":2000.41,"v":-47.131},{"yr":2000.44,"v":-47.044},{"yr":2000.46,"v":-47.015},{"yr":2000.51,"v":-46.962},{"yr":2000.55,"v":-47.078},{"yr":2000.52,"v":-47.102},{"yr":2000.5,"v":-47.204},{"yr":2000.55,"v":-47.242},{"yr":2000.59,"v":-47.267},{"yr":2000.58,"v":-47.305},{"yr":2000.62,"v":-47.31},{"yr":2000.62,"v":-47.426},{"yr":2000.66,"v":-47.44},{"yr":2000.7,"v":-47.556},{"yr":2000.73,"v":-47.59},{"yr":2000.72,"v":-47.639},{"yr":2000.77,"v":-47.648},{"yr":2000.8,"v":-47.653},{"yr":2000.8,"v":-47.571},{"yr":2000.84,"v":-47.552},{"yr":2000.88,"v":-47.513},{"yr":2000.91,"v":-47.547},{"yr":2000.87,"v":-47.474},{"yr":2000.95,"v":-47.465},{"yr":2000.98,"v":-47.397},{"yr":2001.02,"v":-47.465},{"yr":2001.04,"v":-47.411},{"yr":2001.06,"v":-47.334},{"yr":2001.09,"v":-47.281},{"yr":2001.13,"v":-47.31},{"yr":2001.17,"v":-47.378},{"yr":2001.2,"v":-47.271},{"yr":2001.24,"v":-47.223},{"yr":2001.27,"v":-47.228},{"yr":2001.31,"v":-47.204},{"yr":2001.35,"v":-47.122},{"yr":2001.38,"v":-47.156},{"yr":2001.42,"v":-47.049},{"yr":2001.43,"v":-47.02},{"yr":2001.46,"v":-47.102},{"yr":2001.49,"v":-47.175},{"yr":2001.53,"v":-47.204},{"yr":2001.56,"v":-47.083},{"yr":2001.6,"v":-47.262},{"yr":2001.64,"v":-47.213},{"yr":2001.67,"v":-47.31},{"yr":2001.71,"v":-47.474},{"yr":2001.73,"v":-47.45},{"yr":2001.76,"v":-47.339},{"yr":2001.78,"v":-47.353},{"yr":2001.82,"v":-47.489},{"yr":2001.83,"v":-47.508},{"yr":2001.85,"v":-47.329},{"yr":2001.67,"v":-47.614},{"yr":2001.68,"v":-47.684},{"yr":2001.89,"v":-47.281},{"yr":2001.93,"v":-47.252},{"yr":2001.96,"v":-47.296},{"yr":2002.0,"v":-47.392},{"yr":2002.03,"v":-47.223},{"yr":2002.07,"v":-47.151},{"yr":2002.11,"v":-47.204},{"yr":2002.14,"v":-47.17},{"yr":2002.18,"v":-47.204},{"yr":2002.22,"v":-47.102},{"yr":2002.25,"v":-47.238},{"yr":2002.29,"v":-47.16},{"yr":2002.32,"v":-47.069},{"yr":2002.36,"v":-47.102},{"yr":2002.38,"v":-47.064},
      {"yr":2002.43,"v":-47.146},{"yr":2002.47,"v":-47.059},{"yr":2002.5,"v":-47.064},{"yr":2002.54,"v":-47.093},{"yr":2002.58,"v":-47.112},{"yr":2002.48,"v":-46.986},{"yr":2002.59,"v":-47.209},{"yr":2002.6,"v":-47.32},{"yr":2002.65,"v":-47.213},{"yr":2002.69,"v":-47.382},{"yr":2002.72,"v":-47.387},{"yr":2002.76,"v":-47.397},{"yr":2002.79,"v":-47.407},{"yr":2002.83,"v":-47.421},{"yr":2002.73,"v":-47.455},{"yr":2002.8,"v":-47.469},{"yr":2002.87,"v":-47.44},{"yr":2002.74,"v":-47.598},{"yr":2002.9,"v":-47.363},{"yr":2002.91,"v":-47.329},{"yr":2002.94,"v":-47.189},{"yr":2002.97,"v":-47.267},{"yr":2003.01,"v":-47.296},{"yr":2003.05,"v":-47.339},{"yr":2003.08,"v":-47.305},{"yr":2003.12,"v":-47.117},{"yr":2003.16,"v":-47.233},{"yr":2003.19,"v":-47.392},{"yr":2003.23,"v":-47.252},{"yr":2003.26,"v":-47.015},{"yr":2003.27,"v":-47.209},{"yr":2003.3,"v":-47.156},{"yr":2003.34,"v":-47.073},{"yr":2003.37,"v":-47.083},{"yr":2003.41,"v":-47.098},{"yr":2003.45,"v":-46.957},{"yr":2003.48,"v":-47.011},{"yr":2003.52,"v":-47.02},{"yr":2003.49,"v":-47.112},{"yr":2003.53,"v":-47.194},{"yr":2003.55,"v":-47.228},{"yr":2003.59,"v":-47.31},{"yr":2003.63,"v":-47.353},{"yr":2003.68,"v":-47.46},{"yr":2003.71,"v":-47.494},{"yr":2003.76,"v":-47.513},{"yr":2003.79,"v":-47.532},{"yr":2003.81,"v":-47.498},{"yr":2003.83,"v":-47.696},{"yr":2003.88,"v":-47.494},{"yr":2003.9,"v":-47.421},{"yr":2003.92,"v":-47.387},{"yr":2003.95,"v":-47.397},{"yr":2003.93,"v":-47.281},{"yr":2003.97,"v":-47.3},{"yr":2004.02,"v":-47.175},{"yr":2004.06,"v":-47.305},{"yr":2004.08,"v":-47.189},{"yr":2004.1,"v":-47.127},{"yr":2004.13,"v":-47.151},{"yr":2004.17,"v":-47.088},{"yr":2004.2,"v":-47.18},{"yr":2004.24,"v":-47.199},{"yr":2004.28,"v":-47.102},{"yr":2004.31,"v":-47.049},{"yr":2004.35,"v":-47.025},{"yr":2004.39,"v":-47.04},{"yr":2004.42,"v":-47.02},{"yr":2004.44,"v":-47.117},{"yr":2004.48,"v":-47.035},{"yr":2004.49,"v":-47.088},{"yr":2004.53,"v":-47.069},{"yr":2004.57,"v":-47.131},{"yr":2004.6,"v":-47.223},{"yr":2004.64,"v":-47.16},{"yr":2004.68,"v":-47.402},{"yr":2004.7,"v":-47.445},{"yr":2004.71,"v":-47.368},{"yr":2004.72,"v":-47.581},{"yr":2004.75,"v":-47.233},{"yr":2004.78,"v":-47.271},{"yr":2004.82,"v":-47.334},{"yr":2004.86,"v":-47.436},{"yr":2004.89,"v":-47.358},{"yr":2004.93,"v":-47.431},{"yr":2004.96,"v":-47.3},{"yr":2005.0,"v":-47.262},{"yr":2005.04,"v":-47.267},{"yr":2005.05,"v":-47.209},{"yr":2005.07,"v":-47.194},{"yr":2005.11,"v":-47.16},{"yr":2005.15,"v":-47.078},{"yr":2005.16,"v":-47.146},{"yr":2005.18,"v":-47.209},{"yr":2005.22,"v":-47.127},{"yr":2005.25,"v":-47.059},{"yr":2005.29,"v":-47.035},{"yr":2005.33,"v":-47.073},{"yr":2005.36,"v":-47.102},{"yr":2005.4,"v":-47.03},{"yr":2005.43,"v":-46.991},{"yr":2005.47,"v":-47.054},{"yr":2005.51,"v":-47.035},{"yr":2005.52,"v":-47.127},{"yr":2005.54,"v":-47.194},{"yr":2005.58,"v":-47.199},{"yr":2005.62,"v":-47.344},{"yr":2005.65,"v":-47.3},{"yr":2005.69,"v":-47.257},{"yr":2005.72,"v":-47.426},{"yr":2005.76,"v":-47.45},{"yr":2005.8,"v":-47.44},{"yr":2005.73,"v":-47.465},{"yr":2005.71,"v":-47.511},{"yr":2005.81,"v":-47.31},{"yr":2005.83,"v":-47.339},{"yr":2005.87,"v":-47.392},{"yr":2005.91,"v":-47.363},{"yr":2005.94,"v":-47.276},{"yr":2005.98,"v":-47.204},{"yr":2006.01,"v":-47.17},{"yr":2006.02,"v":-47.131},{"yr":2006.05,"v":-47.238},{"yr":2006.09,"v":-47.276},{"yr":2006.12,"v":-47.209},{"yr":2006.16,"v":-47.093},{"yr":2006.2,"v":-47.151},{"yr":2006.23,"v":-47.117},{"yr":2006.27,"v":-47.064},{"yr":2006.3,"v":-47.252},{"yr":2006.28,"v":-47.353},{"yr":2006.34,"v":-47.069},{"yr":2006.38,"v":-47.088},{"yr":2006.41,"v":-46.991},{"yr":2006.45,"v":-47.078},{"yr":2006.48,"v":-47.011},{"yr":2006.51,"v":-47.035},{"yr":2006.52,"v":-47.059},{"yr":2006.56,"v":-47.127},{"yr":2006.59,"v":-47.204},{"yr":2006.63,"v":-47.228},{"yr":2006.67,"v":-47.368},{"yr":2006.7,"v":-47.503},{"yr":2006.74,"v":-47.532},{"yr":2006.72,"v":-47.624},{"yr":2006.75,"v":-47.65},{"yr":2006.81,"v":-47.373},{"yr":2006.85,"v":-47.445},{"yr":2006.88,"v":-47.402},{"yr":2006.92,"v":-47.465},{"yr":2006.95,"v":-47.382},{"yr":2006.96,"v":-47.3},{"yr":2006.99,"v":-47.324},{"yr":2007.01,"v":-47.247},{"yr":2007.03,"v":-47.305},{"yr":2007.06,"v":-47.267},{"yr":2007.1,"v":-47.238},{"yr":2007.14,"v":-47.136},{"yr":2007.17,"v":-47.199},{"yr":2007.21,"v":-47.156},{"yr":2007.24,"v":-47.175},{"yr":2007.28,"v":-47.112},{"yr":2007.32,"v":-47.083},{"yr":2007.35,"v":-47.069},{"yr":2007.39,"v":-47.073},{"yr":2007.42,"v":-47.059},{"yr":2007.46,"v":-47.117},{"yr":2007.5,"v":-47.127},{"yr":2007.53,"v":-47.165},{"yr":2007.57,"v":-47.358},{"yr":2007.59,"v":-47.455},{"yr":2007.62,"v":-47.523},{"yr":2007.64,"v":-47.614},{"yr":2007.68,"v":-47.436},{"yr":2007.71,"v":-47.653},{"yr":2007.75,"v":-47.677},{"yr":2007.77,"v":-47.59},{"yr":2007.79,"v":-47.774},{"yr":2007.81,"v":-47.513},{"yr":2007.86,"v":-47.421},{"yr":2007.87,"v":-47.474},{"yr":2007.89,"v":-47.31},{"yr":2007.93,"v":-47.296},{"yr":2007.97,"v":-47.16},{"yr":2008.0,"v":-47.267},{"yr":2008.04,"v":-47.223},{"yr":2008.08,"v":-47.228},{"yr":2008.11,"v":-47.127},{"yr":2008.15,"v":-47.252},{"yr":2008.18,"v":-47.242},{"yr":2008.22,"v":-47.296},{"yr":2008.26,"v":-47.286},{"yr":2008.29,"v":-47.185},{"yr":2008.33,"v":-47.146},{"yr":2008.34,"v":-47.107},{"yr":2008.37,"v":-47.015},{"yr":2008.4,"v":-46.986},{"yr":2008.44,"v":-46.957},{"yr":2008.47,"v":-47.011},{"yr":2008.51,"v":-47.03},{"yr":2008.55,"v":-47.04},{"yr":2008.58,"v":-47.006},{"yr":2008.6,"v":-47.175},{"yr":2008.63,"v":-47.296},{"yr":2008.64,"v":-47.421},{"yr":2008.66,"v":-47.59},
      {"yr":2008.69,"v":-47.373},{"yr":2008.68,"v":-47.436},{"yr":2008.73,"v":-47.59},{"yr":2008.76,"v":-47.561},{"yr":2008.8,"v":-47.474},{"yr":2008.83,"v":-47.503},{"yr":2008.87,"v":-47.542},{"yr":2008.91,"v":-47.353},{"yr":2008.92,"v":-47.373},{"yr":2008.94,"v":-47.315},{"yr":2008.97,"v":-47.286},{"yr":2008.98,"v":-47.165},{"yr":2009.02,"v":-47.189},{"yr":2009.05,"v":-47.189},{"yr":2009.09,"v":-47.271},{"yr":2009.12,"v":-47.18},{"yr":2009.14,"v":-47.213},{"yr":2009.16,"v":-47.146},{"yr":2009.2,"v":-47.02},{"yr":2009.21,"v":-47.218},{"yr":2009.23,"v":-47.088},{"yr":2009.27,"v":-47.107},{"yr":2009.3,"v":-47.069},{"yr":2009.34,"v":-46.996},{"yr":2009.35,"v":-47.141},{"yr":2009.38,"v":-47.069},{"yr":2009.4,"v":-47.102},{"yr":2009.41,"v":-47.127},{"yr":2009.45,"v":-46.928},{"yr":2009.46,"v":-47.165},{"yr":2009.49,"v":-47.069},{"yr":2009.52,"v":-47.156},{"yr":2009.54,"v":-47.185},{"yr":2009.59,"v":-47.262},{"yr":2009.56,"v":-47.353},{"yr":2009.6,"v":-47.358},{"yr":2009.63,"v":-47.411},{"yr":2009.67,"v":-47.368},{"yr":2009.7,"v":-47.344},{"yr":2009.74,"v":-47.387},{"yr":2009.78,"v":-47.353},{"yr":2009.81,"v":-47.523},{"yr":2009.79,"v":-47.663},{"yr":2009.65,"v":-47.494},{"yr":2009.62,"v":-47.498},{"yr":2009.85,"v":-47.44},{"yr":2009.88,"v":-47.402},{"yr":2009.92,"v":-47.339},{"yr":2009.96,"v":-47.353},{"yr":2009.99,"v":-47.329},{"yr":2010.03,"v":-47.141},{"yr":2010.04,"v":-47.218},{"yr":2010.07,"v":-47.233},{"yr":2010.1,"v":-47.257},{"yr":2010.14,"v":-47.276},{"yr":2010.17,"v":-47.339},{"yr":2010.21,"v":-47.416},{"yr":2010.19,"v":-47.3},{"yr":2010.25,"v":-47.305},{"yr":2010.28,"v":-47.189},{"yr":2010.32,"v":-47.242},{"yr":2010.35,"v":-47.156},{"yr":2010.39,"v":-47.156},{"yr":2010.43,"v":-47.112},{"yr":2010.46,"v":-47.069},{"yr":2010.5,"v":-47.04},{"yr":2010.54,"v":-47.015},{"yr":2010.52,"v":-47.03},{"yr":2010.57,"v":-47.18},{"yr":2010.58,"v":-47.267},{"yr":2010.59,"v":-47.296},{"yr":2010.61,"v":-47.319},{"yr":2010.63,"v":-47.344},{"yr":2010.64,"v":-47.363},{"yr":2010.62,"v":-47.382},{"yr":2010.75,"v":-47.436},{"yr":2010.79,"v":-47.576},{"yr":2010.72,"v":-47.624},{"yr":2010.68,"v":-47.653},{"yr":2010.86,"v":-47.469},{"yr":2010.92,"v":-47.508},{"yr":2010.9,"v":-47.349},{"yr":2010.95,"v":-47.286},{"yr":2010.99,"v":-47.281},{"yr":2011.04,"v":-47.368},{"yr":2011.08,"v":-47.334},{"yr":2011.11,"v":-47.267},{"yr":2011.15,"v":-47.213},{"yr":2011.19,"v":-47.223},{"yr":2011.22,"v":-47.199},{"yr":2011.26,"v":-47.223},{"yr":2011.3,"v":-47.136},{"yr":2011.33,"v":-47.141},{"yr":2011.35,"v":-47.073},{"yr":2011.38,"v":-47.112},{"yr":2011.4,"v":-47.083},{"yr":2011.43,"v":-46.962},{"yr":2011.44,"v":-46.982},{"yr":2011.45,"v":-46.996},{"yr":2011.48,"v":-47.093},{"yr":2011.5,"v":-47.098},{"yr":2011.53,"v":-47.146},{"yr":2011.55,"v":-47.296},{"yr":2011.58,"v":-47.349},{"yr":2011.62,"v":-47.373},{"yr":2011.63,"v":-47.455},{"yr":2011.66,"v":-47.503},{"yr":2011.69,"v":-47.416},{"yr":2011.71,"v":-47.61},{"yr":2011.74,"v":-47.639},{"yr":2011.77,"v":-47.614},{"yr":2011.8,"v":-47.498},{"yr":2011.84,"v":-47.503},{"yr":2011.87,"v":-47.474},{"yr":2011.91,"v":-47.518},{"yr":2011.77,"v":-47.788},{"yr":2011.6,"v":-47.566},{"yr":2011.92,"v":-47.411},{"yr":2011.88,"v":-47.392},{"yr":2011.95,"v":-47.344},{"yr":2011.98,"v":-47.329},{"yr":2012.02,"v":-47.31},{"yr":2012.06,"v":-47.146},{"yr":2012.09,"v":-47.242},{"yr":2012.13,"v":-47.382},{"yr":2012.16,"v":-47.213},{"yr":2012.2,"v":-47.262},{"yr":2012.22,"v":-47.18},{"yr":2012.23,"v":-47.151},{"yr":2012.27,"v":-47.17},{"yr":2012.31,"v":-47.175},{"yr":2012.34,"v":-47.16},{"yr":2012.38,"v":-47.146},{"yr":2012.42,"v":-47.064},{"yr":2012.44,"v":-46.977},{"yr":2012.45,"v":-47.054},{"yr":2012.49,"v":-47.088},{"yr":2012.52,"v":-47.122},{"yr":2012.56,"v":-47.194},{"yr":2012.58,"v":-47.204},{"yr":2012.6,"v":-47.242},{"yr":2012.63,"v":-47.286},{"yr":2012.64,"v":-47.373},{"yr":2012.65,"v":-47.436},{"yr":2012.67,"v":-47.397},{"yr":2012.73,"v":-47.469},{"yr":2012.74,"v":-47.542},{"yr":2012.78,"v":-47.61},{"yr":2012.76,"v":-47.648},{"yr":2012.71,"v":-47.754},{"yr":2012.81,"v":-47.547},{"yr":2012.85,"v":-47.363},{"yr":2012.87,"v":-47.426},{"yr":2012.92,"v":-47.528},{"yr":2012.89,"v":-47.436},{"yr":2012.93,"v":-47.17},{"yr":2012.99,"v":-47.339},{"yr":2013.03,"v":-47.436},{"yr":2013.07,"v":-47.378},{"yr":2013.08,"v":-47.209},{"yr":2013.1,"v":-47.518},{"yr":2013.12,"v":-47.247},{"yr":2013.16,"v":-47.262},{"yr":2013.18,"v":-47.165},{"yr":2013.21,"v":-47.102},{"yr":2013.25,"v":-47.122},{"yr":2013.28,"v":-47.141},{"yr":2013.32,"v":-47.146},{"yr":2013.33,"v":-47.31},{"yr":2013.41,"v":-46.957},{"yr":2013.43,"v":-47.069},{"yr":2013.39,"v":-47.146},{"yr":2013.42,"v":-47.238},{"yr":2013.45,"v":-47.17},{"yr":2013.48,"v":-47.189},{"yr":2013.5,"v":-47.204},{"yr":2013.54,"v":-47.165},{"yr":2013.57,"v":-47.247},{"yr":2013.61,"v":-47.141},{"yr":2013.62,"v":-47.281},{"yr":2013.65,"v":-47.31},{"yr":2013.67,"v":-47.358},{"yr":2013.66,"v":-47.407},{"yr":2013.7,"v":-47.44},{"yr":2013.72,"v":-47.426},{"yr":2013.74,"v":-47.46},{"yr":2013.77,"v":-47.44},{"yr":2013.83,"v":-47.552},{"yr":2013.81,"v":-47.581},{"yr":2013.79,"v":-47.66},{"yr":2013.89,"v":-47.469},{"yr":2013.91,"v":-47.421},{"yr":2013.96,"v":-47.436},{"yr":2013.97,"v":-47.407}
    ]
  },
  "vconcat": [
    {
      "width": 1095,
      "height": 339,
      "title": {"text": "(a)", "anchor": "start", "frame": "group", "offset": -58, "dx": 13, "font": "Liberation Serif", "fontSize": 31, "fontWeight": "bold", "color": "#231f20"},
      "resolve": {"axis": {"x": "independent", "y": "independent"}},
      "layer": [
        {
          "data": {"name": "trend_a"},
          "mark": {"type": "line", "color": "#231f20", "strokeWidth": 2.5, "strokeDash": [7, 6]},
          "encoding": {
            "x": {
              "field": "yr", "type": "quantitative",
              "scale": {"domain": [1991, 2014.5], "nice": false, "zero": false},
              "axis": {"orient": "bottom", "title": null, "format": "d", "values": [1992,1993,1994,1995,1996,1997,1998,1999,2000,2001,2002,2003,2004,2005,2006,2007,2008,2009,2010,2011,2012,2013,2014], "labelExpr": "datum.value % 5 === 0 ? datum.label : ''", "tickSize": {"condition": {"test": "datum.value % 5 === 0", "value": -10}, "value": -5}, "labelPadding": 16}
            },
            "y": {
              "field": "v", "type": "quantitative",
              "scale": {"domain": [1750, 1950], "nice": false, "zero": false},
              "axis": {"orient": "left", "title": "CH₄ (ppb)", "titlePadding": 18, "format": "d", "values": [1750, 1800, 1850, 1900, 1950], "tickSize": -10, "labelPadding": 19}
            }
          }
        },
        {
          "data": {"name": "fit_a"},
          "mark": {"type": "line", "color": "#231f20", "strokeWidth": 2, "interpolate": "monotone"},
          "encoding": {
            "x": {
              "field": "yr", "type": "quantitative",
              "axis": {"orient": "top", "title": null, "labels": false, "values": [1992,1993,1994,1995,1996,1997,1998,1999,2000,2001,2002,2003,2004,2005,2006,2007,2008,2009,2010,2011,2012,2013,2014], "tickSize": {"condition": {"test": "datum.value % 5 === 0", "value": -10}, "value": -5}}
            },
            "y": {
              "field": "v", "type": "quantitative",
              "axis": {"orient": "right", "title": null, "labels": false, "values": [1750, 1800, 1850, 1900, 1950], "tickSize": -8}
            }
          }
        },
        {
          "data": {"name": "pts_a"},
          "mark": {"type": "point", "shape": "circle", "filled": true, "fill": "white", "stroke": "#231f20", "strokeWidth": 1, "size": 66, "opacity": 1},
          "encoding": {
            "x": {"field": "yr", "type": "quantitative", "axis": null},
            "y": {"field": "v", "type": "quantitative", "axis": null}
          }
        }
      ]
    },
    {
      "width": 1082,
      "height": 345,
      "title": {"text": "(b)", "anchor": "start", "frame": "group", "offset": -60, "dx": 13, "font": "Liberation Serif", "fontSize": 31, "fontWeight": "bold", "color": "#231f20"},
      "resolve": {"axis": {"x": "independent", "y": "independent"}},
      "layer": [
        {
          "data": {"name": "trend_b"},
          "mark": {"type": "line", "color": "#231f20", "strokeWidth": 2.5, "strokeDash": [7, 6]},
          "encoding": {
            "x": {
              "field": "yr", "type": "quantitative",
              "scale": {"domain": [1991, 2014.5], "nice": false, "zero": false},
              "axis": {"orient": "bottom", "title": "YEAR", "titlePadding": 17, "format": "d", "values": [1992,1993,1994,1995,1996,1997,1998,1999,2000,2001,2002,2003,2004,2005,2006,2007,2008,2009,2010,2011,2012,2013,2014], "labelExpr": "datum.value % 5 === 0 ? datum.label : ''", "tickSize": {"condition": {"test": "datum.value % 5 === 0", "value": -10}, "value": -5}, "labelPadding": 17}
            },
            "y": {
              "field": "v", "type": "quantitative",
              "scale": {"domain": [-47.8, -46.8], "nice": false, "zero": false},
              "axis": {"orient": "left", "title": "δ¹³C (‰)", "titlePadding": 14, "format": ".1f", "labelExpr": "replace(datum.label, '\u2212', '-')", "values": [-47.8, -47.6, -47.4, -47.2, -47.0, -46.8], "tickSize": -10, "labelPadding": 19}
            }
          }
        },
        {
          "data": {"name": "fit_b"},
          "mark": {"type": "line", "color": "#231f20", "strokeWidth": 2, "interpolate": "monotone"},
          "encoding": {
            "x": {
              "field": "yr", "type": "quantitative",
              "axis": {"orient": "top", "title": null, "labels": false, "values": [1992,1993,1994,1995,1996,1997,1998,1999,2000,2001,2002,2003,2004,2005,2006,2007,2008,2009,2010,2011,2012,2013,2014], "tickSize": {"condition": {"test": "datum.value % 5 === 0", "value": -10}, "value": -5}}
            },
            "y": {
              "field": "v", "type": "quantitative",
              "axis": {"orient": "right", "title": null, "labels": false, "values": [-47.8, -47.6, -47.4, -47.2, -47.0, -46.8], "tickSize": -8}
            }
          }
        },
        {
          "data": {"name": "pts_b"},
          "mark": {"type": "point", "shape": "circle", "filled": true, "fill": "white", "stroke": "#231f20", "strokeWidth": 1, "size": 66, "opacity": 1},
          "encoding": {
            "x": {"field": "yr", "type": "quantitative", "axis": null},
            "y": {"field": "v", "type": "quantitative", "axis": null}
          }
        }
      ]
    }
  ]
}
